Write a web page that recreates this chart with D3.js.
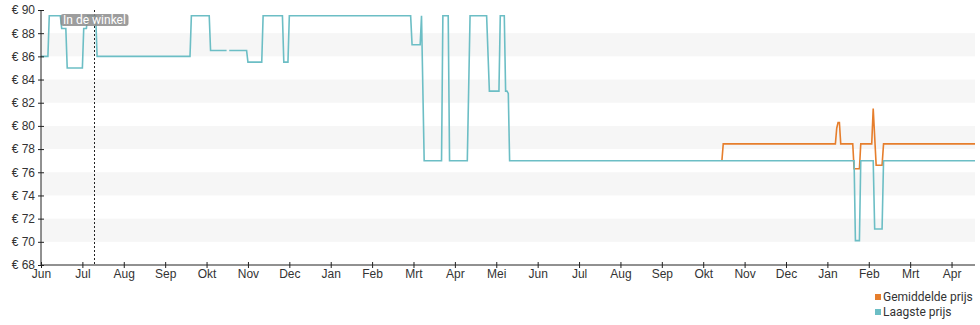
<!DOCTYPE html>
<html>
<head>
<meta charset="utf-8">
<script src="https://cdn.jsdelivr.net/npm/d3@7/dist/d3.min.js"></script>
<style>
  body { margin: 0; background: #fff; }
  svg { display: block; font-family: Roboto, "Noto Sans", sans-serif; }
  .axis text { fill: #333; font-size: 12px; }
  .axis path, .axis line { stroke: #222; }
</style>
</head>
<body>
<div id="chart"></div>
<script>
// month labels (Dutch)
var monthNames = ["Jan", "Feb", "Mrt", "Apr", "Mei", "Jun", "Jul", "Aug", "Sep", "Okt", "Nov", "Dec"];
var priceTicks = [68, 70, 72, 74, 76, 78, 80, 82, 84, 86, 88, 90];
var bandRanges = [[86, 88], [82, 84], [78, 80], [74, 76], [70, 72]];

// Laagste prijs
var lowestDates = [
  "2023-06-01", "2023-06-06", "2023-06-07", "2023-06-15", "2023-06-16", "2023-06-19",
  "2023-06-20", "2023-07-01", "2023-07-02", "2023-07-04", "2023-07-05", "2023-07-11",
  "2023-07-12", "2023-09-19", "2023-09-20", "2023-10-03", "2023-10-04", "2023-10-16",
  "2023-10-17", "2023-10-18", "2023-10-31", "2023-11-01", "2023-11-11", "2023-11-12",
  "2023-11-26", "2023-11-27", "2023-11-30", "2023-12-01", "2024-02-28", "2024-02-29",
  "2024-03-06", "2024-03-07", "2024-03-09", "2024-03-22", "2024-03-23", "2024-03-27",
  "2024-03-28", "2024-04-10", "2024-04-12", "2024-04-24", "2024-04-26", "2024-05-03",
  "2024-05-04", "2024-05-07", "2024-05-08", "2024-05-09", "2024-05-10", "2024-05-11",
  "2025-01-21", "2025-01-22", "2025-01-25", "2025-01-26", "2025-02-04", "2025-02-05",
  "2025-02-10", "2025-02-11", "2025-04-18"
];
var lowestPrices = [
  86, 86, 89.5, 89.5, 88.4, 88.4,
  85, 85, 88.4, 88.4, 89.5, 89.5,
  86, 86, 89.5, 89.5, 86.5, 86.5,
  null, 86.5, 86.5, 85.5, 85.5, 89.5,
  89.5, 85.5, 85.5, 89.5, 89.5, 87,
  87, 89.5, 77, 77, 89.5, 89.5,
  77, 77, 89.5, 89.5, 83, 83,
  89.5, 89.5, 83, 83, 82.8, 77,
  77, 70.1, 70.1, 77, 77, 71.1,
  71.1, 77, 77
];

// Gemiddelde prijs
var avgDates = [
  "2024-10-15", "2024-10-16", "2025-01-07", "2025-01-08", "2025-01-09", "2025-01-10",
  "2025-01-11", "2025-01-20", "2025-01-21", "2025-01-25", "2025-01-26", "2025-02-03",
  "2025-02-04", "2025-02-06", "2025-02-10", "2025-02-11", "2025-04-18"
];
var avgPrices = [
  77, 78.45, 78.45, 79.8, 80.3, 80.3,
  78.45, 78.45, 76.3, 76.3, 78.45, 78.45,
  81.5, 76.6, 76.6, 78.45, 78.45
];

var storeDate = "2023-07-10";
var dateRange = ["2023-06-01", "2025-04-18"];

var colors = { avg: "#e67e2c", low: "#6cbec5" };

var width = 980, height = 325;
var margin = { top: 10, right: 5, bottom: 60, left: 41 };
var parse = d3.timeParse("%Y-%m-%d");
var start = parse(dateRange[0]), end = parse(dateRange[1]);

// every month gets the same width on this axis
function monthValue(d) {
    var m0 = d3.timeMonth.floor(d), m1 = d3.timeMonth.offset(m0, 1);
    return d3.timeMonth.count(start, m0) + (d - m0) / (m1 - m0);
}

var svg = d3.select("#chart").append("svg")
    .attr("width", width)
    .attr("height", height);

var x = d3.scaleLinear()
    .domain([0, monthValue(end)])
    .range([margin.left, width - margin.right]);

var y = d3.scaleLinear()
    .domain([68, 90])
    .range([height - margin.bottom, margin.top]);

// grey bands
svg.append("g").selectAll("rect")
    .data(bandRanges)
    .enter().append("rect")
    .attr("x", x.range()[0])
    .attr("width", x.range()[1] - x.range()[0])
    .attr("y", function(d) { return y(d[1]); })
    .attr("height", function(d) { return y(d[0]) - y(d[1]); })
    .attr("fill", "#f6f6f6");

function toPoints(dates, values) {
    return dates.map(function(d, i) { return { date: parse(d), value: values[i] }; });
}

var line = d3.line()
    .defined(function(d) { return d.value !== null; })
    .x(function(d) { return x(monthValue(d.date)); })
    .y(function(d) { return y(d.value); });

svg.append("path")
    .datum(toPoints(avgDates, avgPrices))
    .attr("d", line)
    .attr("fill", "none")
    .attr("stroke", colors.avg)
    .attr("stroke-width", 1.6);

svg.append("path")
    .datum(toPoints(lowestDates, lowestPrices))
    .attr("d", line)
    .attr("fill", "none")
    .attr("stroke", colors.low)
    .attr("stroke-width", 1.6);

// axes
var yAxis = svg.append("g")
    .attr("class", "axis")
    .attr("transform", "translate(" + margin.left + ",0)")
    .call(d3.axisLeft(y).tickValues(priceTicks).tickSize(3).tickPadding(3)
        .tickFormat(function(d) { return "€ " + d; }));
yAxis.selectAll(".tick line").attr("x1", 3);
yAxis.select(".domain").attr("d", "M0," + y.range()[0] + "V" + y.range()[1]);

var monthTicks = d3.range(0, Math.floor(monthValue(end)) + 1);
var xAxis = svg.append("g")
    .attr("class", "axis")
    .attr("transform", "translate(0," + (height - margin.bottom) + ")")
    .call(d3.axisBottom(x).tickValues(monthTicks).tickSize(3).tickPadding(1)
        .tickFormat(function(i) { return monthNames[(start.getMonth() + i) % 12]; }));
xAxis.selectAll(".tick line").attr("y1", -3);
xAxis.select(".domain").attr("d", "M" + x.range()[0] + ",0H" + x.range()[1]);

// store marker
var sx = Math.round(x(monthValue(parse(storeDate)))) + 0.5;
svg.append("line")
    .attr("x1", sx).attr("x2", sx)
    .attr("y1", y(90)).attr("y2", y(68))
    .attr("stroke", "#222")
    .attr("stroke-dasharray", "2,2");

var label = svg.append("g");
label.append("rect")
    .attr("x", sx - 34).attr("y", 14)
    .attr("width", 68).attr("height", 12)
    .attr("rx", 3)
    .attr("fill", "rgba(140,140,140,0.85)");
label.append("text")
    .attr("x", sx).attr("y", 24)
    .attr("text-anchor", "middle")
    .attr("fill", "#fff")
    .attr("font-size", "12px")
    .text("In de winkel");

// legend
var legendItems = [
    { name: "Gemiddelde prijs", color: colors.avg },
    { name: "Laagste prijs", color: colors.low }
];
var legend = svg.append("g").selectAll("g")
    .data(legendItems)
    .enter().append("g")
    .attr("transform", function(d, i) { return "translate(875," + (294 + i * 15) + ")"; });
legend.append("rect")
    .attr("width", 6).attr("height", 6)
    .attr("fill", function(d) { return d.color; });
legend.append("text")
    .attr("x", 8).attr("y", 6.5)
    .attr("font-size", "12px")
    .attr("fill", "#333")
    .text(function(d) { return d.name; });
</script>
</body>
</html>
